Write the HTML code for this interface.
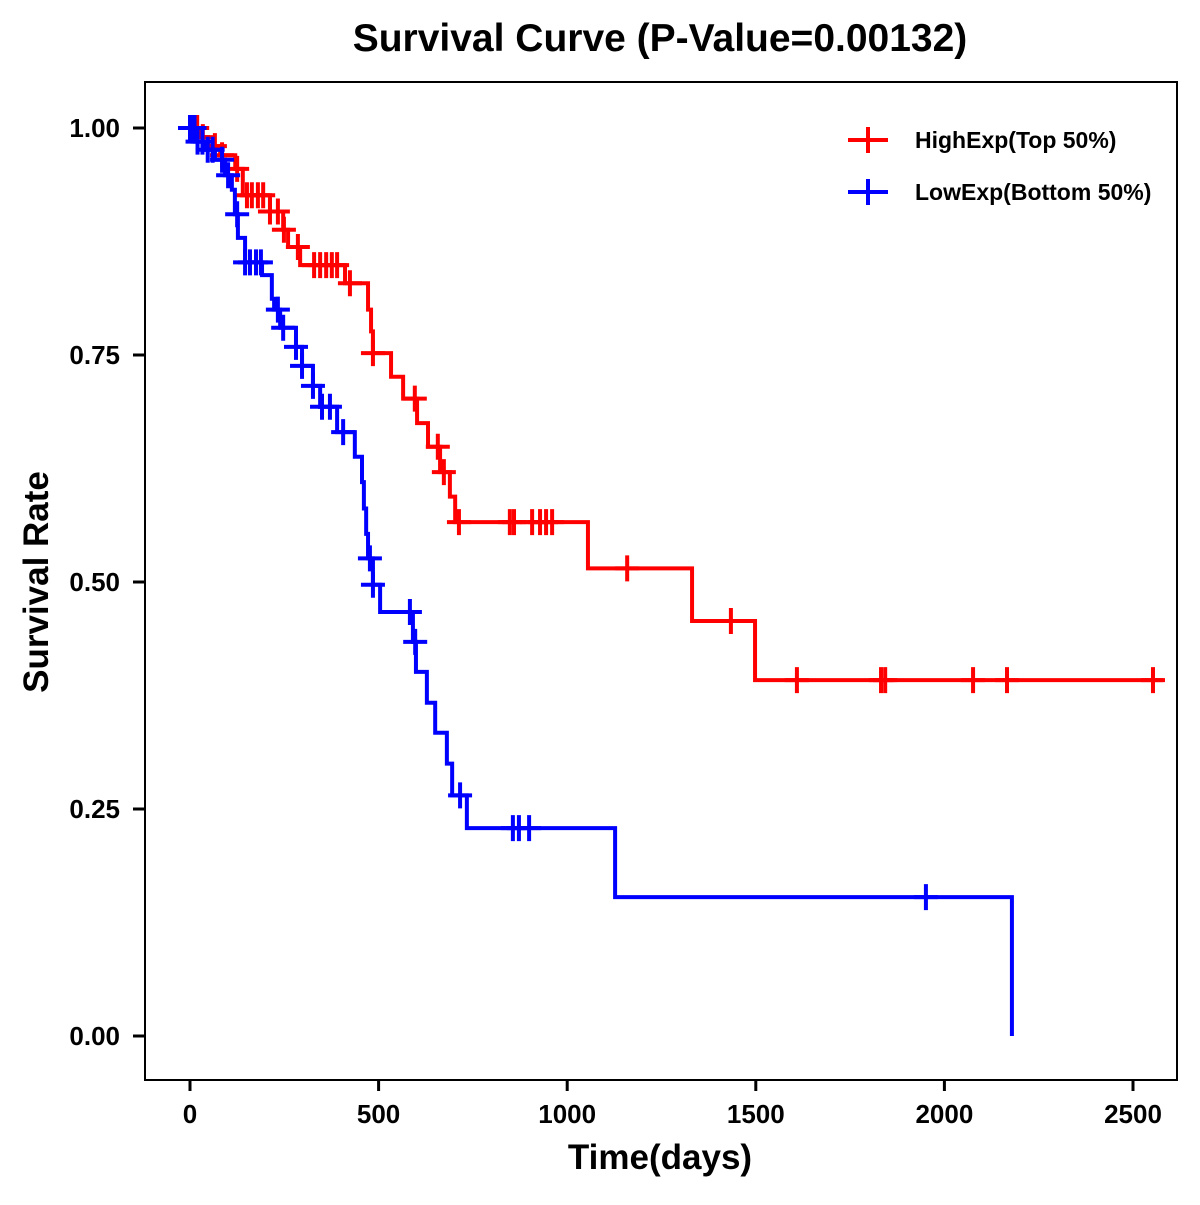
<!DOCTYPE html>
<html><head><meta charset="utf-8"><style>
body{margin:0;background:#fff}
svg text{font-family:"Liberation Sans",Arial,sans-serif;font-weight:bold}
</style></head><body>
<svg id="chart" width="1200" height="1200" viewBox="0 0 1200 1200">
<rect x="0" y="0" width="1200" height="1200" fill="#fff"/>
<text x="660" y="51" text-anchor="middle" font-size="39">Survival Curve (P-Value=0.00132)</text>
<g id="axes"></g>
<g id="series"></g>
<rect x="145" y="82" width="1032" height="998" fill="none" stroke="#000" stroke-width="2"/>
<text x="660" y="1169" text-anchor="middle" font-size="35">Time(days)</text>
<text transform="translate(48,582) rotate(-90)" text-anchor="middle" font-size="35">Survival Rate</text>
<g>
<g>
<line x1="848" y1="140" x2="888" y2="140" stroke="red" stroke-width="4"/>
<line x1="868" y1="127" x2="868" y2="153" stroke="red" stroke-width="4"/>
<text x="915" y="148" font-size="23">HighExp(Top 50%)</text>
</g>
<g>
<line x1="848" y1="192" x2="888" y2="192" stroke="blue" stroke-width="4"/>
<line x1="868" y1="179" x2="868" y2="205" stroke="blue" stroke-width="4"/>
<text x="915" y="200" font-size="23">LowExp(Bottom 50%)</text>
</g>
</g>
</svg>
<script>
const xTicks = [0, 500, 1000, 1500, 2000, 2500];
const yTicks = [0, 0.25, 0.5, 0.75, 1.0];
const yTickLabels = ["0.00", "0.25", "0.50", "0.75", "1.00"];
const highTimes = [27, 48, 80, 120, 140, 212, 247, 260, 292, 411, 472, 480, 485, 533, 565, 602, 631, 663, 689, 703, 1055, 1331, 1498];
const highSurv = [0.99, 0.98, 0.97, 0.955, 0.926, 0.908, 0.888, 0.869, 0.849, 0.829, 0.80, 0.776, 0.752, 0.726, 0.702, 0.675, 0.649, 0.621, 0.594, 0.566, 0.515, 0.457, 0.392];
const highEnd = 2580;
const highCensor = [8, 19, 34, 66, 85, 125, 151, 164, 180, 194, 212, 233, 249, 286, 329, 345, 361, 376, 390, 424, 485, 596, 657, 673, 713, 848, 859, 907, 928, 944, 960, 1159, 1434, 1609, 1832, 1843, 2076, 2166, 2553];
const lowTimes = [13, 40, 66, 93, 111, 119, 127, 146, 191, 217, 223, 239, 281, 297, 326, 345, 390, 437, 456, 461, 467, 472, 485, 504, 591, 599, 628, 650, 681, 695, 734, 1127, 2179];
const lowSurv = [0.985, 0.976, 0.965, 0.948, 0.932, 0.905, 0.879, 0.852, 0.838, 0.812, 0.80, 0.78, 0.759, 0.738, 0.716, 0.693, 0.665, 0.638, 0.61, 0.581, 0.553, 0.526, 0.497, 0.467, 0.434, 0.401, 0.367, 0.334, 0.300, 0.265, 0.229, 0.153, 0.0];
const lowEnd = 2179;
const lowCensor = [0, 5, 12, 20, 33, 47, 60, 85, 101, 125, 146, 159, 175, 188, 233, 247, 281, 297, 326, 350, 371, 406, 477, 485, 583, 597, 716, 856, 872, 899, 1951];

const NS = "http://www.w3.org/2000/svg";
function xs(t){ return 190 + t * (943/2500); }
function ys(v){ return 1036 - v * 908; }
function mk(tag, attrs, parent){ const e = document.createElementNS(NS, tag); for (const k in attrs) e.setAttribute(k, attrs[k]); parent.appendChild(e); return e; }
const axes = document.getElementById('axes');
xTicks.forEach(t => {
  const l = mk('line', {x1: xs(t), x2: xs(t), y1: 1080, y2: 1091, stroke: '#000', 'stroke-width': 3}, axes);
  
  
  const tx = mk('text', {x: xs(t), y: 1123, 'text-anchor': 'middle', 'font-size': 26}, axes);
  tx.textContent = t;
  
  
});
yTicks.forEach((v, i) => {
  const l = mk('line', {x1: 133, x2: 145, y1: ys(v), y2: ys(v), stroke: '#000', 'stroke-width': 3}, axes);
  
  
  const tx = mk('text', {x: 120, y: ys(v) + 9, 'text-anchor': 'end', 'font-size': 26}, axes);
  tx.textContent = yTickLabels[i];
  
  
});
function survAt(times, surv, t){ let s = 1; for (let i = 0; i < times.length; i++) if (times[i] <= t) s = surv[i]; return s; }
const series = document.getElementById('series');
function drawSeries(times, surv, end, censor, color, name){
  const g = mk('g', {}, series);
  
  
  let d = 'M' + xs(0) + ' ' + ys(1);
  for (let i = 0; i < times.length; i++){ d += ' H' + xs(times[i]) + ' V' + ys(surv[i]); }
  if (end > times[times.length - 1]) d += ' H' + xs(end);
  const p = mk('path', {d: d, fill: 'none', stroke: color, 'stroke-width': 4}, g);
  
  
  censor.forEach(t => {
    const cx = xs(t), cy = ys(survAt(times, surv, t));
    const c = mk('path', {d: 'M' + (cx - 12) + ' ' + cy + ' H' + (cx + 12) + ' M' + cx + ' ' + (cy - 13) + ' V' + (cy + 13), stroke: color, 'stroke-width': 4, fill: 'none'}, g);
    
    
  });
}
drawSeries(highTimes, highSurv, highEnd, highCensor, 'red', 'high-exp');
drawSeries(lowTimes, lowSurv, lowEnd, lowCensor, 'blue', 'low-exp');
</script>
</body></html>
